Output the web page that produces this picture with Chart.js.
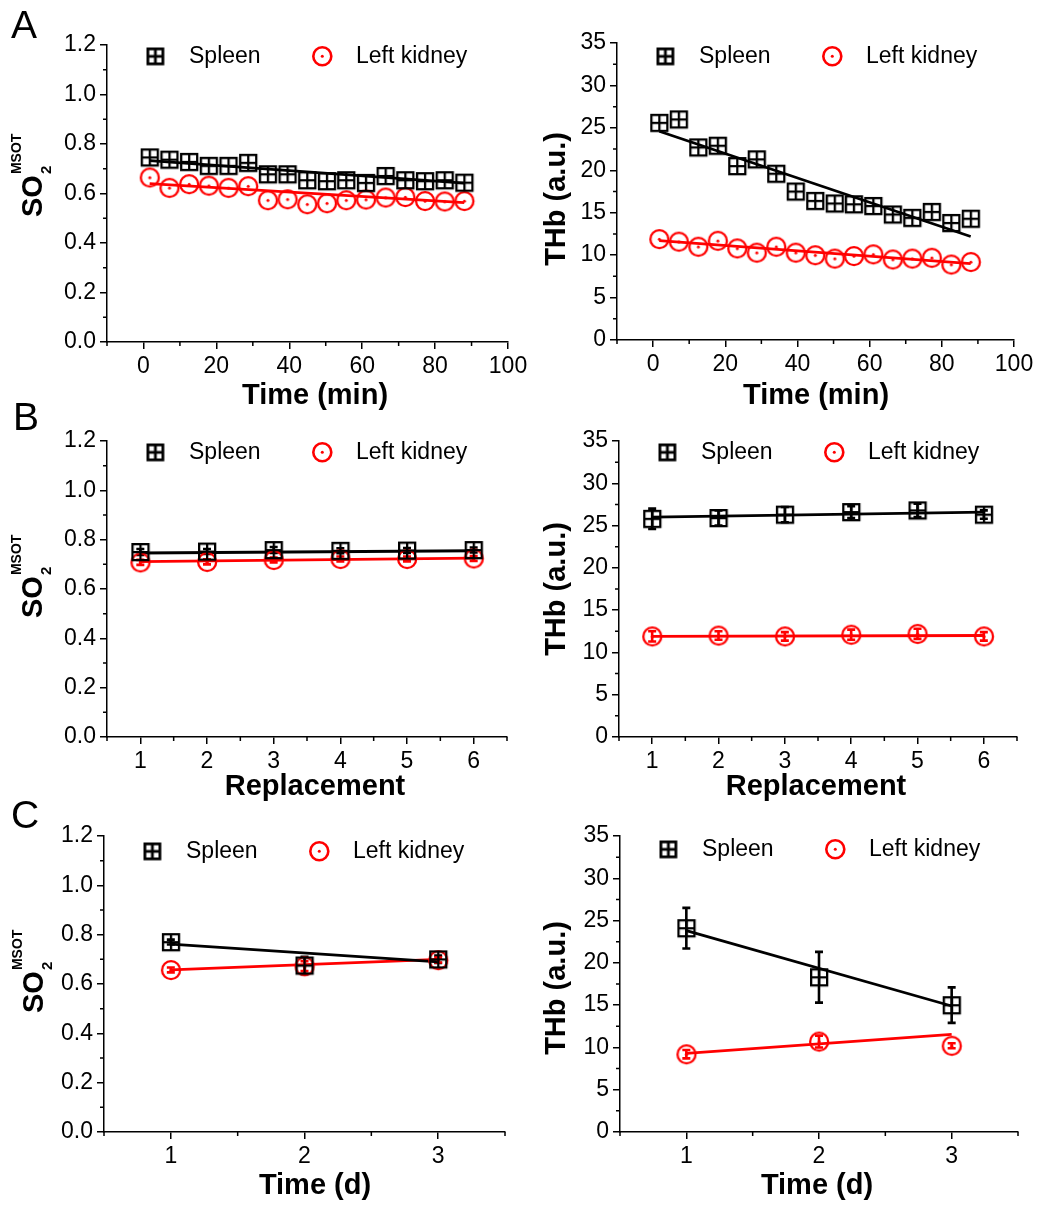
<!DOCTYPE html>
<html>
<head>
<meta charset="utf-8">
<script src="https://cdn.jsdelivr.net/npm/chart.js@4.4.1/dist/chart.umd.min.js"></script>
<style>
  html, body { margin: 0; padding: 0; background: #fff; }
  #wrap { position: relative; width: 1047px; height: 1207px; }
  #wrap canvas { position: absolute; left: 0; top: 0; }
</style>
</head>
<body>
<div id="wrap"></div>
<script>
// ---- data ----
const timeMin = [1.7, 7.1, 12.5, 17.9, 23.3, 28.7, 34.1, 39.5, 44.9, 50.3, 55.6, 61.0, 66.4, 71.8, 77.2, 82.6, 88.0];
const so2SpleenA = [0.746, 0.737, 0.728, 0.712, 0.712, 0.724, 0.678, 0.678, 0.654, 0.650, 0.654, 0.643, 0.671, 0.654, 0.650, 0.654, 0.644];
const so2KidneyA = [0.665, 0.623, 0.638, 0.632, 0.623, 0.630, 0.573, 0.577, 0.557, 0.561, 0.573, 0.576, 0.584, 0.586, 0.570, 0.568, 0.570];
const thbSpleenA = [25.6, 26.0, 22.7, 22.9, 20.5, 21.3, 19.6, 17.5, 16.4, 16.1, 16.0, 15.8, 14.8, 14.4, 15.1, 13.8, 14.3];
const thbKidneyA = [11.9, 11.6, 11.0, 11.7, 10.8, 10.3, 11.0, 10.3, 10.0, 9.6, 9.9, 10.1, 9.5, 9.6, 9.7, 8.9, 9.2];
// fitted lines: [x, y] at both ends
const fitSo2SpleenA = [[1.7, 0.733], [88, 0.642]];
const fitSo2KidneyA = [[1.7, 0.640], [88, 0.563]];
const fitThbSpleenA = [[1.7, 24.6], [88, 12.2]];
const fitThbKidneyA = [[1.7, 11.7], [88, 9.0]];

const replacement = [1, 2, 3, 4, 5, 6];
const so2SpleenB = [0.750, 0.752, 0.758, 0.755, 0.756, 0.758];
const so2SpleenBErr = [0.012, 0.010, 0.012, 0.010, 0.010, 0.010];
const so2KidneyB = [0.708, 0.710, 0.718, 0.722, 0.722, 0.724];
const so2KidneyBErr = [0.010, 0.010, 0.010, 0.010, 0.010, 0.010];
const thbSpleenB = [25.8, 25.9, 26.3, 26.6, 26.8, 26.3];
const thbSpleenBErr = [1.2, 0.9, 0.9, 0.7, 0.8, 0.5];
const thbKidneyB = [11.9, 12.0, 11.9, 12.1, 12.2, 11.9];
const thbKidneyBErr = [0.6, 0.5, 0.5, 0.6, 0.6, 0.5];
const fitSo2SpleenB = [[1, 0.746], [6, 0.755]];
const fitSo2KidneyB = [[1, 0.711], [6, 0.725]];
const fitThbSpleenB = [[1, 26.0], [6, 26.6]];
const fitThbKidneyB = [[1, 11.9], [6, 12.0]];

const days = [1, 2, 3];
const so2SpleenC = [0.770, 0.675, 0.700];
const so2SpleenCErr = [0.010, 0.035, 0.015];
const so2KidneyC = [0.657, 0.672, 0.697];
const so2KidneyCErr = [0.010, 0.020, 0.010];
const thbSpleenC = [24.1, 18.3, 15.0];
const thbSpleenCErr = [2.4, 3.0, 2.1];
const thbKidneyC = [9.2, 10.7, 10.2];
const thbKidneyCErr = [0.5, 0.7, 0.3];
const fitSo2SpleenC = [[1, 0.762], [3, 0.690]];
const fitSo2KidneyC = [[1, 0.657], [3, 0.700]];
const fitThbSpleenC = [[1, 23.8], [3, 14.9]];
const fitThbKidneyC = [[1, 9.3], [3, 11.55]];

// ticks
const so2Ticks = [0, 0.2, 0.4, 0.6, 0.8, 1.0, 1.2];
const so2Minor = [0.1, 0.3, 0.5, 0.7, 0.9, 1.1];
const thbTicks = [0, 5, 10, 15, 20, 25, 30, 35];
const thbMinor = [2.5, 7.5, 12.5, 17.5, 22.5, 27.5, 32.5];
const timeTicks = [0, 20, 40, 60, 80, 100];
const timeMinor = [-10, 10, 30, 50, 70, 90];
const replTicks = [1, 2, 3, 4, 5, 6];
const replMinor = [0.5, 1.5, 2.5, 3.5, 4.5, 5.5, 6.5];
const dayTicks = [1, 2, 3];
const dayMinor = [0.5, 1.5, 2.5, 3.5];

const seriesNames = ['Spleen', 'Left kidney'];

// ---- drawing helpers ----
const W = 1047, H = 1207;
const FONT = '"Liberation Sans", Arial, sans-serif';
const RED = '#ff0000';

function squareMark(size, lw) {
  const s = size + lw + 4;
  const c = document.createElement('canvas');
  c.width = c.height = s;
  const g = c.getContext('2d');
  g.strokeStyle = '#000';
  g.lineWidth = lw;
  const o = (s - size) / 2;
  g.strokeRect(o, o, size, size);
  g.beginPath();
  g.moveTo(s / 2, o); g.lineTo(s / 2, o + size);
  g.moveTo(o, s / 2); g.lineTo(o + size, s / 2);
  g.stroke();
  return c;
}
function circleMark(d, lw) {
  const s = d + lw + 4;
  const c = document.createElement('canvas');
  c.width = c.height = s;
  const g = c.getContext('2d');
  g.strokeStyle = RED;
  g.fillStyle = RED;
  g.lineWidth = lw;
  g.beginPath();
  g.arc(s / 2, s / 2, d / 2, 0, Math.PI * 2);
  g.stroke();
  g.beginPath();
  g.arc(s / 2, s / 2, 1.5, 0, Math.PI * 2);
  g.fill();
  return c;
}
const sqImg = squareMark(16, 2.3);
const ciImg = circleMark(18, 2.3);
const sqLegend = squareMark(15, 2.8);
const ciLegend = circleMark(18, 2.6);

const deco = {
  id: 'deco',
  beforeDatasetsDraw(chart) {
    const ctx = chart.ctx;
    const ys = chart.scales.y;
    chart.data.datasets.forEach((ds, i) => {
      if (!ds.errors) return;
      const meta = chart.getDatasetMeta(i);
      ctx.save();
      ctx.strokeStyle = ds.errColor;
      ctx.lineWidth = 2.6;
      meta.data.forEach((pt, j) => {
        const v = ds.data[j].y, e = ds.errors[j];
        const t = ys.getPixelForValue(v + e), b = ys.getPixelForValue(v - e);
        ctx.beginPath();
        ctx.moveTo(pt.x, t); ctx.lineTo(pt.x, b);
        ctx.moveTo(pt.x - 4, t); ctx.lineTo(pt.x + 4, t);
        ctx.moveTo(pt.x - 4, b); ctx.lineTo(pt.x + 4, b);
        ctx.stroke();
      });
      ctx.restore();
    });
  },
  afterDraw(chart, args, o) {
    const ctx = chart.ctx;
    const a = chart.chartArea;
    const xs = chart.scales.x, ys = chart.scales.y;
    ctx.save();
    // minor ticks
    ctx.strokeStyle = '#000';
    ctx.lineWidth = 1.5;
    ctx.beginPath();
    o.xMinor.forEach(v => {
      const p = xs.getPixelForValue(v);
      ctx.moveTo(p, a.bottom); ctx.lineTo(p, a.bottom + 4);
    });
    o.yMinor.forEach(v => {
      const p = ys.getPixelForValue(v);
      ctx.moveTo(a.left, p); ctx.lineTo(a.left - 4, p);
    });
    ctx.stroke();

    ctx.fillStyle = '#000';
    // x title
    ctx.font = 'bold 29px ' + FONT;
    ctx.textAlign = 'center';
    ctx.textBaseline = 'alphabetic';
    ctx.fillText(o.xTitle, o.xTitleX, a.bottom + o.xTitleDy);

    // y title
    ctx.save();
    ctx.translate(o.yTitleX, o.yTitleY);
    ctx.rotate(-Math.PI / 2);
    if (o.yTitle === 'SO2') {
      ctx.textAlign = 'left';
      ctx.font = 'bold 29px ' + FONT;
      ctx.fillText('SO', 0, 0);
      const w = ctx.measureText('SO').width;
      ctx.font = 'bold 15px ' + FONT;
      ctx.fillText('2', w + 1, 9);
      ctx.font = 'bold 14px ' + FONT;
      ctx.fillText('MSOT', w + 1, -21);
    } else {
      ctx.textAlign = 'center';
      ctx.font = 'bold 29px ' + FONT;
      ctx.fillText(o.yTitle, 0, 0);
    }
    ctx.restore();

    // legend
    const ly = a.top + o.legendDy;
    ctx.drawImage(sqLegend, a.left + 48 - sqLegend.width / 2, ly - sqLegend.height / 2);
    ctx.drawImage(ciLegend, a.left + 215 - ciLegend.width / 2, ly - ciLegend.height / 2);
    ctx.font = '23px ' + FONT;
    ctx.textAlign = 'left';
    ctx.textBaseline = 'middle';
    ctx.fillText(seriesNames[0], a.left + 82, ly + 1);
    ctx.fillText(seriesNames[1], a.left + 249, ly + 1);

    // panel letter
    if (o.letter) {
      ctx.font = '39px ' + FONT;
      ctx.textBaseline = 'alphabetic';
      ctx.fillText(o.letter, o.letterX, o.letterY);
    }
    ctx.restore();
  }
};

function pts(xs, ys) { return xs.map((x, i) => ({ x: x, y: ys[i] })); }
function ends(f) { return f.map(p => ({ x: p[0], y: p[1] })); }

function axisStyle() {
  return {
    border: { display: true, color: '#000', width: 1.5 },
    grid: { display: true, drawOnChartArea: false, drawTicks: true, tickLength: 7, color: '#000', lineWidth: 1.5 }
  };
}

function panel(p) {
  const cv = document.createElement('canvas');
  cv.width = W; cv.height = H;
  document.getElementById('wrap').appendChild(cv);
  const a = p.area; // left, top, right, bottom
  const datasets = [
    { data: pts(p.x, p.spleen), pointStyle: sqImg, pointRadius: 8, showLine: false,
      errors: p.spleenErr, errColor: '#000' },
    { data: pts(p.x, p.kidney), pointStyle: ciImg, pointRadius: 9, showLine: false,
      errors: p.kidneyErr, errColor: RED },
    { data: ends(p.fitSpleen), showLine: true, pointRadius: 0, borderColor: '#000', borderWidth: 2.8 },
    { data: ends(p.fitKidney), showLine: true, pointRadius: 0, borderColor: RED, borderWidth: 2.8 }
  ];
  const xAxis = Object.assign(axisStyle(), {
    type: 'linear', min: p.xRange[0], max: p.xRange[1],
    afterFit(s) { s.height = H - a[3]; s.paddingLeft = 0; s.paddingRight = 0; },
    afterBuildTicks(s) { s.ticks = p.xTicks.map(v => ({ value: v })); },
    ticks: { color: '#000', font: { family: FONT, size: 23 }, padding: 4, maxRotation: 0, autoSkip: false }
  });
  const yAxis = Object.assign(axisStyle(), {
    type: 'linear', min: p.yRange[0], max: p.yRange[1],
    afterFit(s) { s.width = a[0]; s.paddingTop = 0; s.paddingBottom = 0; },
    afterBuildTicks(s) { s.ticks = p.yTicks.map(v => ({ value: v })); },
    ticks: { color: '#000', font: { family: FONT, size: 23 }, padding: 4, autoSkip: false,
      callback: p.yFmt }
  });
  new Chart(cv, {
    type: 'scatter',
    data: { datasets: datasets },
    options: {
      responsive: false, animation: false, devicePixelRatio: 1,
      layout: { padding: { left: 0, top: a[1], right: W - a[2], bottom: 0 } },
      plugins: { legend: { display: false }, tooltip: { enabled: false }, deco: p },
      scales: { x: xAxis, y: yAxis }
    },
    plugins: [deco]
  });
}

const fmt1 = v => v.toFixed(1);
const fmt0 = v => String(v);

panel({ area: [107, 45, 508, 342], x: timeMin, spleen: so2SpleenA, kidney: so2KidneyA,
  fitSpleen: fitSo2SpleenA, fitKidney: fitSo2KidneyA,
  xRange: [-10, 100], xTicks: timeTicks, xMinor: timeMinor,
  yRange: [0, 1.2], yTicks: so2Ticks, yMinor: so2Minor, yFmt: fmt1,
  xTitle: 'Time (min)', xTitleX: 315, xTitleDy: 62,
  yTitle: 'SO2', yTitleX: 42, yTitleY: 217, legendDy: 11,
  letter: 'A', letterX: 11, letterY: 38 });

panel({ area: [617, 43, 1014, 340], x: timeMin, spleen: thbSpleenA, kidney: thbKidneyA,
  fitSpleen: fitThbSpleenA, fitKidney: fitThbKidneyA,
  xRange: [-10, 100], xTicks: timeTicks, xMinor: timeMinor,
  yRange: [0, 35], yTicks: thbTicks, yMinor: thbMinor, yFmt: fmt0,
  xTitle: 'Time (min)', xTitleX: 816, xTitleDy: 64,
  yTitle: 'THb (a.u.)', yTitleX: 565, yTitleY: 199, legendDy: 13 });

panel({ area: [107, 441, 507, 737], x: replacement, spleen: so2SpleenB, kidney: so2KidneyB,
  spleenErr: so2SpleenBErr, kidneyErr: so2KidneyBErr,
  fitSpleen: fitSo2SpleenB, fitKidney: fitSo2KidneyB,
  xRange: [0.5, 6.5], xTicks: replTicks, xMinor: replMinor,
  yRange: [0, 1.2], yTicks: so2Ticks, yMinor: so2Minor, yFmt: fmt1,
  xTitle: 'Replacement', xTitleX: 315, xTitleDy: 58,
  yTitle: 'SO2', yTitleX: 42, yTitleY: 618, legendDy: 11,
  letter: 'B', letterX: 13, letterY: 430 });

panel({ area: [619, 441, 1017, 737], x: replacement, spleen: thbSpleenB, kidney: thbKidneyB,
  spleenErr: thbSpleenBErr, kidneyErr: thbKidneyBErr,
  fitSpleen: fitThbSpleenB, fitKidney: fitThbKidneyB,
  xRange: [0.5, 6.5], xTicks: replTicks, xMinor: replMinor,
  yRange: [0, 35], yTicks: thbTicks, yMinor: thbMinor, yFmt: fmt0,
  xTitle: 'Replacement', xTitleX: 816, xTitleDy: 58,
  yTitle: 'THb (a.u.)', yTitleX: 565, yTitleY: 589, legendDy: 11 });

panel({ area: [104, 836, 505, 1132], x: days, spleen: so2SpleenC, kidney: so2KidneyC,
  spleenErr: so2SpleenCErr, kidneyErr: so2KidneyCErr,
  fitSpleen: fitSo2SpleenC, fitKidney: fitSo2KidneyC,
  xRange: [0.5, 3.5], xTicks: dayTicks, xMinor: dayMinor,
  yRange: [0, 1.2], yTicks: so2Ticks, yMinor: so2Minor, yFmt: fmt1,
  xTitle: 'Time (d)', xTitleX: 315, xTitleDy: 62,
  yTitle: 'SO2', yTitleX: 43, yTitleY: 1013, legendDy: 15,
  letter: 'C', letterX: 11, letterY: 828 });

panel({ area: [620, 836, 1018, 1132], x: days, spleen: thbSpleenC, kidney: thbKidneyC,
  spleenErr: thbSpleenCErr, kidneyErr: thbKidneyCErr,
  fitSpleen: fitThbSpleenC, fitKidney: fitThbKidneyC,
  xRange: [0.5, 3.5], xTicks: dayTicks, xMinor: dayMinor,
  yRange: [0, 35], yTicks: thbTicks, yMinor: thbMinor, yFmt: fmt0,
  xTitle: 'Time (d)', xTitleX: 817, xTitleDy: 62,
  yTitle: 'THb (a.u.)', yTitleX: 565, yTitleY: 988, legendDy: 13 });
</script>
</body>
</html>
